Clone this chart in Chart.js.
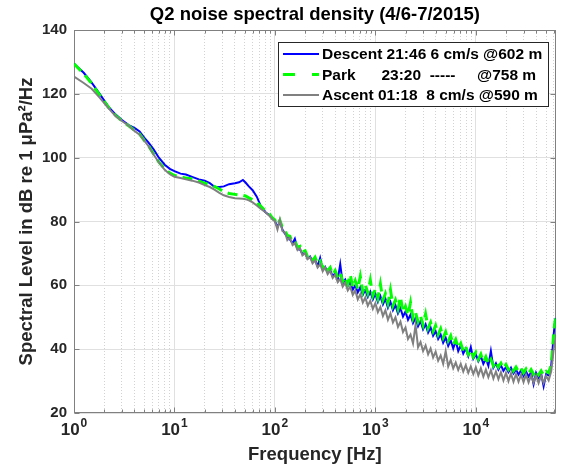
<!DOCTYPE html>
<html><head><meta charset="utf-8">
<script src="https://cdn.jsdelivr.net/npm/chart.js@4.4.1/dist/chart.umd.min.js"></script>
<style>html,body{margin:0;padding:0;background:#fff;}canvas{display:block;}</style>
</head><body>
<canvas id="c" width="561" height="472"></canvas>
<script>
const titleText = 'Q2 noise spectral density (4/6-7/2015)';
const xTitle = 'Frequency [Hz]';
const yTitle = 'Spectral Level in dB re 1 μPa²/Hz';
const seriesLabels = ['Descent 21:46 6 cm/s @602 m', 'Park      23:20  -----     @758 m', 'Ascent 01:18  8 cm/s @590 m'];
const xMajorTicks = [1, 10, 100, 1000, 10000];
const xTickBase = '10';
const xTickExponents = ['0', '1', '2', '3', '4'];
const yTicks = [20, 40, 60, 80, 100, 120, 140];

const freqHz = [
  1, 1.25, 1.5, 1.8, 2.2, 2.6, 3, 3.5, 4, 4.5, 5, 5.5, 6.2, 7, 8, 9, 10, 11.5, 13, 15, 17.5, 20, 22.5, 25, 28, 31, 35, 40, 44, 48, 51, 55, 60, 66, 72, 80, 88, 95,
  100, 106, 112, 119, 126, 133, 141, 150, 158, 168, 178, 188, 200, 211, 224, 237, 251, 266, 282, 299, 316, 335, 355, 376, 398, 422, 447, 473, 501, 531, 562, 596, 631, 668, 708, 750, 794, 841, 891, 944,
  1000, 1059, 1122, 1189, 1259, 1334, 1413, 1496, 1585, 1679, 1778, 1884, 1995, 2113, 2239, 2371, 2512, 2661, 2818, 2985, 3162, 3350, 3548, 3758, 3981, 4217, 4467, 4732, 5012, 5309, 5623, 5957, 6310, 6683, 7079, 7499, 7943, 8414, 8913, 9441,
  10000, 10593, 11220, 11885, 12589, 13335, 14125, 14962, 15849, 16788, 17783, 18836, 19953, 21135, 22387, 23714, 25119, 26607, 28184, 29854, 31623, 33497, 35481, 37584, 39811, 42170, 44668, 47315, 50119, 53088, 56234, 58000, 59566, 61000, 62500
];

const descentDb = [
  129.4, 126.6, 123.5, 120.0, 116.0, 113.5, 111.8, 110.2, 109.3, 108.2, 106.3, 104.8, 102.6, 100.0, 97.8, 96.5, 95.8, 95.0, 94.7, 94.0, 93.2, 92.8, 92.0, 90.9, 90.8, 91.0, 91.7, 92.0, 92.3, 93.0, 92.2, 91.0, 89.8, 87.8, 85.0, 83.0, 82.0, 80.8,
  80.2, 78.2, 80.0, 77.4, 76.2, 75.2, 74.4, 73.2, 74.6, 71.4, 71.2, 69.8, 70.2, 68.4, 69.0, 67.4, 68.0, 66.0, 68.6, 65.0, 65.8, 64.0, 64.8, 62.8, 63.8, 61.8, 66.6, 60.6, 61.8, 59.8, 61.0, 58.6, 60.0, 57.8, 59.4, 57.0, 58.6, 56.4, 58.0, 55.6,
  57.4, 54.8, 56.6, 54.0, 55.8, 53.0, 54.8, 52.2, 53.8, 51.2, 52.8, 50.2, 51.8, 49.2, 50.8, 48.2, 49.8, 47.2, 48.8, 46.2, 47.8, 45.2, 46.8, 44.2, 45.6, 43.2, 44.6, 42.0, 43.6, 41.0, 42.8, 40.2, 42.6, 39.4, 41.2, 38.6, 40.2, 37.8, 40.6, 37.0,
  38.4, 36.2, 37.8, 35.4, 37.0, 34.8, 39.4, 34.2, 35.6, 33.6, 35.0, 33.2, 34.4, 32.8, 34.2, 32.4, 33.6, 32.0, 33.4, 31.6, 33.0, 31.4, 32.8, 29.0, 32.6, 31.0, 32.4, 28.4, 32.2, 31.8, 34.6, 39.6, 44.6, 47.8, 49.8
];

const parkDb = [
  129.4, 126.3, 123.2, 119.6, 115.8, 113.2, 111.5, 110.0, 108.6, 107.4, 105.4, 103.8, 101.2, 98.6, 96.5, 95.2, 94.4, 94.0, 93.6, 93.3, 92.6, 92.0, 91.4, 91.0, 90.2, 89.3, 88.8, 88.5, 88.3, 88.2, 88.0, 87.4, 86.8, 86.0, 84.8, 83.4, 82.4, 81.0,
  80.5, 79.0, 80.4, 78.0, 77.0, 75.6, 75.4, 73.6, 73.8, 71.8, 72.2, 70.4, 70.8, 69.0, 69.6, 67.8, 68.8, 66.8, 67.6, 65.6, 66.6, 64.6, 65.6, 63.4, 64.6, 62.4, 63.8, 61.2, 62.6, 60.4, 63.4, 59.4, 61.4, 58.8, 62.8, 58.0, 60.2, 57.6, 61.6, 56.8,
  58.8, 56.0, 60.4, 55.4, 57.4, 54.4, 58.6, 53.6, 55.4, 52.6, 56.4, 51.6, 53.4, 50.6, 54.6, 49.6, 51.4, 48.6, 50.4, 47.6, 51.0, 46.6, 48.4, 45.6, 47.4, 44.6, 46.4, 43.6, 45.4, 42.6, 44.2, 41.4, 43.0, 40.4, 41.8, 39.4, 40.8, 38.4, 39.8, 37.6,
  39.0, 36.8, 38.4, 36.0, 37.6, 35.4, 36.8, 34.8, 36.2, 34.4, 35.6, 34.0, 35.2, 33.6, 34.8, 33.2, 34.4, 33.0, 34.0, 32.6, 33.8, 32.4, 33.6, 32.2, 33.4, 32.0, 33.2, 31.8, 33.0, 32.6, 35.0, 40.0, 45.0, 48.0, 50.0
];

const ascentDb = [
  125.4, 123.4, 121.6, 118.8, 115.5, 113.0, 111.5, 110.0, 108.4, 107.2, 105.3, 103.7, 101.0, 98.5, 96.2, 94.8, 94.0, 93.6, 93.2, 92.8, 92.2, 91.4, 90.8, 90.0, 89.0, 88.2, 87.7, 87.3, 87.2, 87.1, 87.0, 86.6, 86.0, 85.0, 84.0, 83.0, 81.8, 80.6,
  80.1, 77.5, 80.6, 77.0, 76.6, 74.2, 75.0, 72.6, 73.2, 71.0, 71.6, 69.4, 70.0, 68.2, 68.8, 66.9, 67.8, 65.6, 66.6, 64.4, 65.6, 63.5, 64.6, 62.3, 63.3, 61.0, 62.0, 59.6, 60.8, 58.4, 59.6, 57.0, 58.4, 55.6, 57.2, 54.6, 56.2, 53.6, 55.2, 52.6,
  54.4, 51.6, 53.2, 50.4, 52.2, 49.2, 51.2, 48.4, 50.0, 47.0, 48.6, 45.4, 46.8, 43.2, 44.6, 41.8, 47.6, 40.6, 42.2, 39.4, 41.2, 38.4, 40.2, 37.4, 39.2, 36.4, 38.0, 35.4, 39.4, 34.6, 36.6, 34.0, 35.8, 33.5, 35.4, 33.0, 35.0, 32.6, 34.6, 32.2,
  34.3, 31.8, 34.0, 31.4, 33.6, 31.2, 33.4, 30.8, 33.0, 30.6, 32.8, 30.2, 32.6, 30.0, 32.4, 29.8, 32.2, 29.8, 32.0, 29.7, 32.0, 29.6, 31.8, 29.5, 31.8, 29.4, 31.7, 29.4, 31.6, 30.2, 33.0, 36.5, 40.0, 42.0, 43.5
];

const FONT = "'Liberation Sans', Arial, Helvetica, sans-serif";
const TXT = '#262626';
const AXIS = '#808080';
const X_MAX = 62500;

const xGridTicks = [];
xMajorTicks.forEach(d => { for (let m = 1; m <= 9; m++) { if (d * m <= X_MAX) xGridTicks.push(d * m); } });
const isDecade = v => Math.abs(Math.log10(v) - Math.round(Math.log10(v))) < 1e-9;
const pts = arr => freqHz.map((f, i) => ({ x: f, y: arr[i] }));

const axesBox = {
  id: 'axesBox',
  beforeDatasetsDraw(chart) {
    const { ctx, chartArea: a, scales: { x, y } } = chart;
    const L = Math.round(a.left) + 0.5, R = Math.round(a.right) - 0.5, T = Math.round(a.top) + 0.5, B = Math.round(a.bottom) - 0.5;
    ctx.save();
    ctx.strokeStyle = AXIS; ctx.lineWidth = 1;
    ctx.strokeRect(L, T, R - L, B - T);
    ctx.beginPath();
    x.ticks.forEach(t => {
      const px = Math.round(x.getPixelForValue(t.value)) + 0.5;
      const len = isDecade(t.value) ? 5 : 3;
      ctx.moveTo(px, B); ctx.lineTo(px, B - len);
      ctx.moveTo(px, T); ctx.lineTo(px, T + len);
    });
    y.ticks.forEach(t => {
      const py = Math.round(y.getPixelForValue(t.value)) + 0.5;
      ctx.moveTo(L, py); ctx.lineTo(L + 5, py);
      ctx.moveTo(R, py); ctx.lineTo(R - 5, py);
    });
    ctx.stroke();
    ctx.restore();
  }
};

// x tick labels drawn as 10 with a raised exponent, at the scale's own tick pixels
const powerLabels = {
  id: 'powerLabels',
  afterDraw(chart) {
    const { ctx, chartArea: a, scales: { x } } = chart;
    const baseY = a.bottom + 21.5, expY = a.bottom + 13.5;
    ctx.save();
    ctx.fillStyle = TXT; ctx.textBaseline = 'alphabetic'; ctx.textAlign = 'left';
    xMajorTicks.forEach((v, i) => {
      const px = x.getPixelForValue(v);
      ctx.font = 'bold 17px ' + FONT;
      const w1 = ctx.measureText(xTickBase).width;
      ctx.font = 'bold 12px ' + FONT;
      const w2 = ctx.measureText(xTickExponents[i]).width;
      const start = px - (w1 + w2 + 1) / 2;
      ctx.font = 'bold 17px ' + FONT;
      ctx.fillText(xTickBase, start, baseY);
      ctx.font = 'bold 12px ' + FONT;
      ctx.fillText(xTickExponents[i], start + w1 + 1, expY);
    });
    ctx.restore();
  }
};

const boxLegend = {
  id: 'boxLegend',
  afterDraw(chart) {
    const { ctx, chartArea: a } = chart;
    const w = 270, h = 64;
    const x0 = Math.round(a.right - 8 - w), y0 = Math.round(a.top + 12);
    ctx.save();
    ctx.fillStyle = '#fff'; ctx.fillRect(x0, y0, w, h);
    ctx.strokeStyle = TXT; ctx.lineWidth = 1; ctx.strokeRect(x0 + 0.5, y0 + 0.5, w, h);
    ctx.font = 'bold 15.5px ' + FONT; ctx.textBaseline = 'middle'; ctx.textAlign = 'left';
    chart.data.datasets.forEach((ds, i) => {
      const yy = y0 + 12 + i * 20.5;
      ctx.beginPath();
      ctx.strokeStyle = ds.borderColor; ctx.lineWidth = ds.borderWidth;
      ctx.setLineDash(ds.borderDash && ds.borderDash.length ? [12, 17] : []);
      ctx.moveTo(x0 + 5, yy); ctx.lineTo(x0 + 41, yy); ctx.stroke();
      ctx.setLineDash([]);
      ctx.fillStyle = '#000';
      ctx.fillText(ds.label, x0 + 44, yy + 1);
    });
    ctx.restore();
  }
};

Chart.defaults.font.family = FONT;

new Chart(document.getElementById('c'), {
  type: 'line',
  data: {
    datasets: [
      { label: seriesLabels[0], data: pts(descentDb), borderColor: '#0000ff', borderWidth: 2, pointRadius: 0, fill: false, order: 3 },
      { label: seriesLabels[1], data: pts(parkDb), borderColor: '#00ff00', borderWidth: 3, borderDash: [10, 6], pointRadius: 0, fill: false, order: 2 },
      { label: seriesLabels[2], data: pts(ascentDb), borderColor: '#808080', borderWidth: 2, pointRadius: 0, fill: false, order: 1 }
    ]
  },
  options: {
    responsive: false,
    animation: false,
    devicePixelRatio: 1,
    layout: { padding: 0 },
    plugins: {
      legend: { display: false },
      tooltip: { enabled: false },
      title: { display: true, text: titleText, color: '#000', fullSize: false, font: { size: 18.5, weight: 'bold' }, padding: { top: 3.4, bottom: 4.4 } }
    },
    scales: {
      x: {
        type: 'logarithmic', min: 1, max: X_MAX,
        afterBuildTicks: s => { s.ticks = xGridTicks.map(v => ({ value: v })); },
        afterFit: s => { s.height = 59; },
        ticks: { autoSkip: false, maxRotation: 0, minRotation: 0, padding: 7, color: TXT, font: { size: 15, weight: 'bold' }, callback: () => '' },
        grid: {
          drawTicks: false, lineWidth: 1,
          color: c => (c.tick && isDecade(c.tick.value)) ? '#e0e0e0' : '#d2d2d2'
        },
        border: { display: false, dash: c => (c.tick && !isDecade(c.tick.value)) ? [1, 2] : [] },
        title: { display: true, text: xTitle, color: TXT, font: { size: 18.5, weight: 'bold' }, padding: { top: 0, bottom: 6 } }
      },
      y: {
        min: 20, max: 140,
        afterBuildTicks: s => { s.ticks = yTicks.map(v => ({ value: v })); },
        afterFit: s => { s.width = 74; },
        ticks: { padding: 7, color: TXT, font: { size: 15, weight: 'bold' } },
        grid: { drawTicks: false, color: '#e0e0e0', lineWidth: 1 },
        border: { display: false },
        title: { display: true, text: yTitle, color: TXT, font: { size: 18.5, weight: 'bold' }, padding: { top: 16, bottom: 0 } }
      }
    }
  },
  plugins: [axesBox, powerLabels, boxLegend]
});
</script>
</body></html>
